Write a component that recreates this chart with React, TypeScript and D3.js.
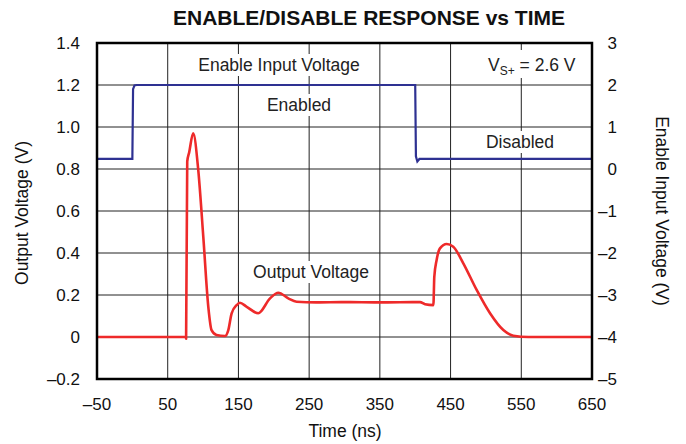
import React from "react";
import * as d3 from "d3";

const W = 686;
const H = 444;
const M = { left: 97, right: 592, top: 43, bottom: 379 };

const xTicks = [-50, 50, 150, 250, 350, 450, 550, 650];
const yLeftTicks = [-0.2, 0, 0.2, 0.4, 0.6, 0.8, 1.0, 1.2, 1.4];
const yRightTicks = [-5, -4, -3, -2, -1, 0, 1, 2, 3];

// Enable input voltage (right axis, V)
const enableTime = [-50, 0, 1, 3, 6, 400, 401, 403, 406, 650];
const enableVolt = [0.24, 0.24, 1.9, 1.99, 2.0, 2.0, 0.3, 0.18, 0.24, 0.24];

// Output voltage (left axis, V)
const outTime = [
  -50, 75.5, 76, 77.6, 80.4, 86, 93.2, 100.3, 107.4, 112, 119, 131, 135.7, 140.4,
  147.5, 152, 161.7, 178, 194.7, 206.4, 220.5, 232.3, 260, 300, 350, 406.8, 413.9,
  425.7, 427, 430.3, 435, 444.5, 453.8, 468, 486.9, 505.8, 524.6, 538.8, 560, 650,
];
const outVolt = [
  0, 0, -0.008, 0.835, 0.88, 0.97, 0.795, 0.478, 0.144, 0.033, 0.01, 0.005, 0.033, 0.113,
  0.152, 0.163, 0.144, 0.113, 0.184, 0.211, 0.184, 0.168, 0.165, 0.166, 0.165, 0.166, 0.156,
  0.152, 0.287, 0.367, 0.422, 0.443, 0.43, 0.351, 0.224, 0.113, 0.033, 0.006, 0, 0,
];

const fmtDash = (v: number, digits: number) => {
  const s = Math.abs(v).toFixed(digits);
  return v < 0 ? "\u2013" + s : s;
};

const FONT = "'Liberation Sans', Arial, Helvetica, sans-serif";

export default function App() {
  const x = d3.scaleLinear().domain([-50, 650]).range([M.left, M.right]);
  const yL = d3.scaleLinear().domain([-0.2, 1.4]).range([M.bottom, M.top]);
  const yR = d3.scaleLinear().domain([-5, 3]).range([M.bottom, M.top]);

  const outData = outTime.map((t, i) => [t, outVolt[i]] as [number, number]);
  const enData = enableTime.map((t, i) => [t, enableVolt[i]] as [number, number]);

  const lineL = d3
    .line<[number, number]>()
    .x((d) => x(d[0]))
    .y((d) => yL(d[1]))
    .curve(d3.curveMonotoneX);
  const lineR = d3
    .line<[number, number]>()
    .x((d) => x(d[0]))
    .y((d) => yR(d[1]));

  const labels = [
    { text: "Enable Input Voltage", x: 279, y: 71, w: 172 },
    { text: "Enabled", x: 299, y: 111, w: 68 },
    { text: "Disabled", x: 520, y: 148, w: 74 },
    { text: "Output Voltage", x: 311, y: 278, w: 126 },
  ];

  return (
    <svg
      width={W}
      height={H}
      style={{ position: "absolute", left: 0, top: 0, display: "block", background: "#fff" }}
      fontFamily={FONT}
    >
      <rect x={0} y={0} width={W} height={H} fill="#fff" />
      <text x={369} y={25} textAnchor="middle" fontSize={21} fontWeight="bold" fill="#111">
        ENABLE/DISABLE RESPONSE vs TIME
      </text>

      {/* grid */}
      {xTicks.slice(1, -1).map((t) => (
        <line key={"gx" + t} x1={x(t)} x2={x(t)} y1={M.top} y2={M.bottom} stroke="#222" strokeWidth={1} />
      ))}
      {yLeftTicks.slice(1, -1).map((v) => (
        <line key={"gy" + v} x1={M.left} x2={M.right} y1={yL(v)} y2={yL(v)} stroke="#222" strokeWidth={1} />
      ))}

      {/* text labels with white boxes */}
      {labels.map((l) => (
        <g key={l.text}>
          <rect x={l.x - l.w / 2 - 4} y={l.y - 17} width={l.w + 8} height={22} fill="#fff" />
          <text x={l.x} y={l.y} textAnchor="middle" fontSize={17.5} fill="#222">
            {l.text}
          </text>
        </g>
      ))}
      <rect x={484} y={50} width={104} height={28} fill="#fff" />
      <text x={488} y={71} fontSize={17.5} fill="#222">
        V
        <tspan fontSize={12} dy={4}>
          S+
        </tspan>
        <tspan dy={-4}> = 2.6 V</tspan>
      </text>

      {/* series */}
      <path d={lineR(enData) ?? ""} fill="none" stroke="#2e3192" strokeWidth={2.2} />
      <path d={lineL(outData) ?? ""} fill="none" stroke="#ee2a2a" strokeWidth={2.6} strokeLinejoin="round" />

      {/* frame */}
      <rect
        x={M.left}
        y={M.top}
        width={M.right - M.left}
        height={M.bottom - M.top}
        fill="none"
        stroke="#000"
        strokeWidth={2.5}
      />

      {/* x tick labels */}
      {xTicks.map((t) => (
        <text key={"xt" + t} x={x(t)} y={410} textAnchor="middle" fontSize={17} fill="#111">
          {fmtDash(t, 0)}
        </text>
      ))}
      {/* left tick labels */}
      {yLeftTicks.map((v) => (
        <text key={"yl" + v} x={80} y={yL(v) + 6} textAnchor="end" fontSize={17} fill="#111">
          {Math.abs(v) < 1e-9 ? "0" : fmtDash(v, 1)}
        </text>
      ))}
      {/* right tick labels */}
      {yRightTicks.map((v) => (
        <text key={"yr" + v} x={617} y={yR(v) + 6} textAnchor="end" fontSize={17} fill="#111">
          {fmtDash(v, 0)}
        </text>
      ))}

      <text x={345} y={437} textAnchor="middle" fontSize={17.5} fill="#111">
        Time (ns)
      </text>
      <text
        transform={`translate(28, 213) rotate(-90)`}
        textAnchor="middle"
        fontSize={17.5}
        fill="#111"
      >
        Output Voltage (V)
      </text>
      <text
        transform={`translate(656, 211) rotate(90)`}
        textAnchor="middle"
        fontSize={17.5}
        fill="#111"
      >
        Enable Input Voltage (V)
      </text>
    </svg>
  );
}
